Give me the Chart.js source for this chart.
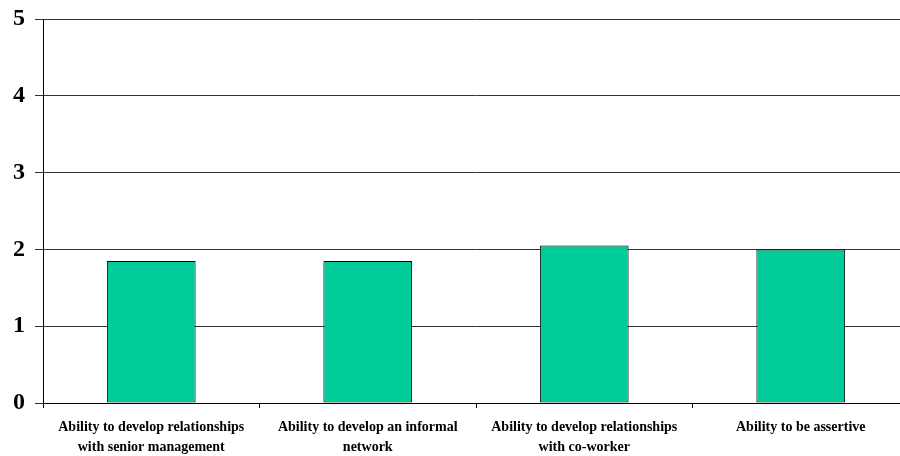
<!DOCTYPE html>
<html>
<head>
<meta charset="utf-8">
<script src="https://cdn.jsdelivr.net/npm/chart.js@4/dist/chart.umd.min.js"></script>
<style>
html,body{margin:0;padding:0;background:#fff;overflow:hidden;width:900px;height:456px;}
#wrap{width:912px;height:456px;}
</style>
</head>
<body>
<div id="wrap"><canvas id="c" width="912" height="456"></canvas></div>
<script>
const categories = [
  ["Ability to develop relationships", "with senior management"],
  ["Ability to develop an informal", "network"],
  ["Ability to develop relationships", "with co-worker"],
  ["Ability to be assertive"]
];
const values = [1.85, 1.85, 2.05, 2.0];
const yTicks = [0, 1, 2, 3, 4, 5];

new Chart(document.getElementById('c'), {
  type: 'bar',
  data: {
    labels: categories,
    datasets: [{
      data: values,
      backgroundColor: '#00CC99',
      borderColor: '#000000',
      borderWidth: 1,
      borderSkipped: false,
      categoryPercentage: 0.41,
      barPercentage: 1.0
    }]
  },
  options: {
    responsive: false,
    animation: false,
    devicePixelRatio: 1,
    layout: { padding: { top: 19, right: 3, left: 0, bottom: 0 } },
    plugins: { legend: { display: false }, tooltip: { enabled: false } },
    scales: {
      x: {
        offset: true,
        grid: { display: true, drawOnChartArea: false, drawTicks: true, tickLength: 5, offset: true, color: '#000' },
        border: { color: '#000', width: 1 },
        ticks: {
          color: '#000',
          font: { family: 'Liberation Serif', weight: 'bold', size: 14, lineHeight: 1.43 },
          maxRotation: 0, autoSkip: false, padding: 9
        },
        afterFit(s) { s.height = 53; }
      },
      y: {
        min: 0, max: 5,
        afterBuildTicks(s) { s.ticks = yTicks.map(v => ({ value: v })); },
        grid: { color: '#333', lineWidth: 1, drawTicks: true, tickLength: 8 },
        border: { color: '#000', width: 1 },
        ticks: {
          color: '#000',
          font: { family: 'Liberation Serif', weight: 'bold', size: 24 },
          padding: 10
        },
        afterFit(s) { s.width = 43; s.paddingTop = 0; s.paddingBottom = 0; }
      }
    }
  }
});
</script>
</body>
</html>
